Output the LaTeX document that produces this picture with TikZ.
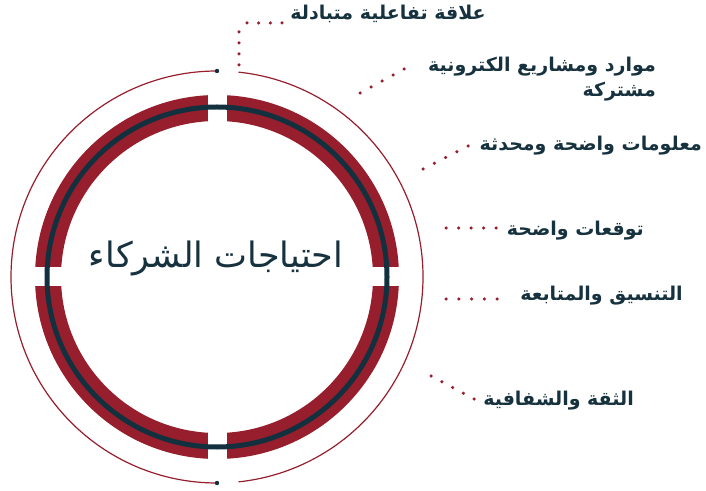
\documentclass[tikz,border=0pt]{standalone}
\usepackage{fontspec}
\TeXXeTstate=1
\newfontfamily\arabicfont[Script=Arabic]{DejaVu Sans}
\usetikzlibrary{calc}
\definecolor{ringred}{HTML}{961E2D}
\definecolor{ringnavy}{HTML}{12303E}
\definecolor{textnavy}{HTML}{17323F}

% a row of n+1 evenly spaced red dots from #1 to #2
\newcommand\leaderdots[3]{%
  \foreach \k in {0,...,#3}{\fill[ringred] ($(#1)!\k/#3!(#2)$) circle (1.75);}}

\begin{document}
\begin{tikzpicture}[x=1pt,y=1pt,
  itemlabel/.style={font=\arabicfont\bfseries\fontsize{19}{25}\selectfont,
    text=textnavy, inner sep=0pt, anchor=base east, align=right},
  titlelabel/.style={font=\arabicfont\fontsize{35}{40}\selectfont,
    text=textnavy, inner sep=0pt, anchor=base},
  thinring/.style={draw=ringred, line width=1.2},
  endpoint/.style={fill=ringnavy}]
\useasboundingbox (0,0) rectangle (706,490);
\coordinate (c) at (217,213);

% outer thin ring, open at the top and bottom
\draw[thinring] ($(c)+(90:206)$) arc[start angle=90, end angle=270, radius=206];
\draw[thinring] ($(c)+(84:206)$) arc[start angle=84, end angle=-84, radius=206];
\fill[endpoint] ($(c)+(0,206)$) circle (2.2);
\fill[endpoint] ($(c)+(0,-206)$) circle (2.2);

% thick red band, cut into four quarters
\fill[ringred, even odd rule] (c) circle (182) (c) circle (156);
\fill[white] ($(c)+(-9.5,150)$) rectangle ($(c)+(9.5,190)$);
\fill[white] ($(c)+(-9.5,-150)$) rectangle ($(c)+(9.5,-190)$);
\fill[white] ($(c)+(-190,-9.5)$) rectangle ($(c)+(-150,9.5)$);
\fill[white] ($(c)+(150,-9.5)$) rectangle ($(c)+(190,9.5)$);

% dark ring through the band
\draw[ringnavy, line width=5] (c) circle (170);

% title
\node[titlelabel] (title) at (216,222) {\beginR احتياجات الشركاء\endR};

% labels
\node[itemlabel] (l1) at (486,470) {\beginR علاقة تفاعلية متبادلة\endR};
\node[itemlabel] (l2) at (656,393) {\beginR موارد ومشاريع الكترونية\endR\\\beginR مشتركة\endR};
\node[itemlabel] (l3) at (702,339) {\beginR معلومات واضحة ومحدثة\endR};
\node[itemlabel] (l4) at (644,254) {\beginR توقعات واضحة\endR};
\node[itemlabel] (l5) at (683,189) {\beginR التنسيق والمتابعة\endR};
\node[itemlabel] (l6) at (634,85) {\beginR الثقة والشفافية\endR};

% dotted leaders
\coordinate (d1a) at (239,425); \coordinate (d1b) at (239,458);
\coordinate (d1c) at (247,467); \coordinate (d1d) at (282,467);
\leaderdots{d1a}{d1b}{3}
\leaderdots{d1c}{d1d}{3}
\coordinate (d2a) at (360,397); \coordinate (d2b) at (404,421);
\leaderdots{d2a}{d2b}{4}
\coordinate (d3a) at (423,321); \coordinate (d3b) at (468,344);
\leaderdots{d3a}{d3b}{4}
\coordinate (d4a) at (446,262); \coordinate (d4b) at (496,262);
\leaderdots{d4a}{d4b}{4}
\coordinate (d5a) at (446,191); \coordinate (d5b) at (497,191);
\leaderdots{d5a}{d5b}{4}
\coordinate (d6a) at (431,114); \coordinate (d6b) at (474,91);
\leaderdots{d6a}{d6b}{4}
\end{tikzpicture}
\end{document}
